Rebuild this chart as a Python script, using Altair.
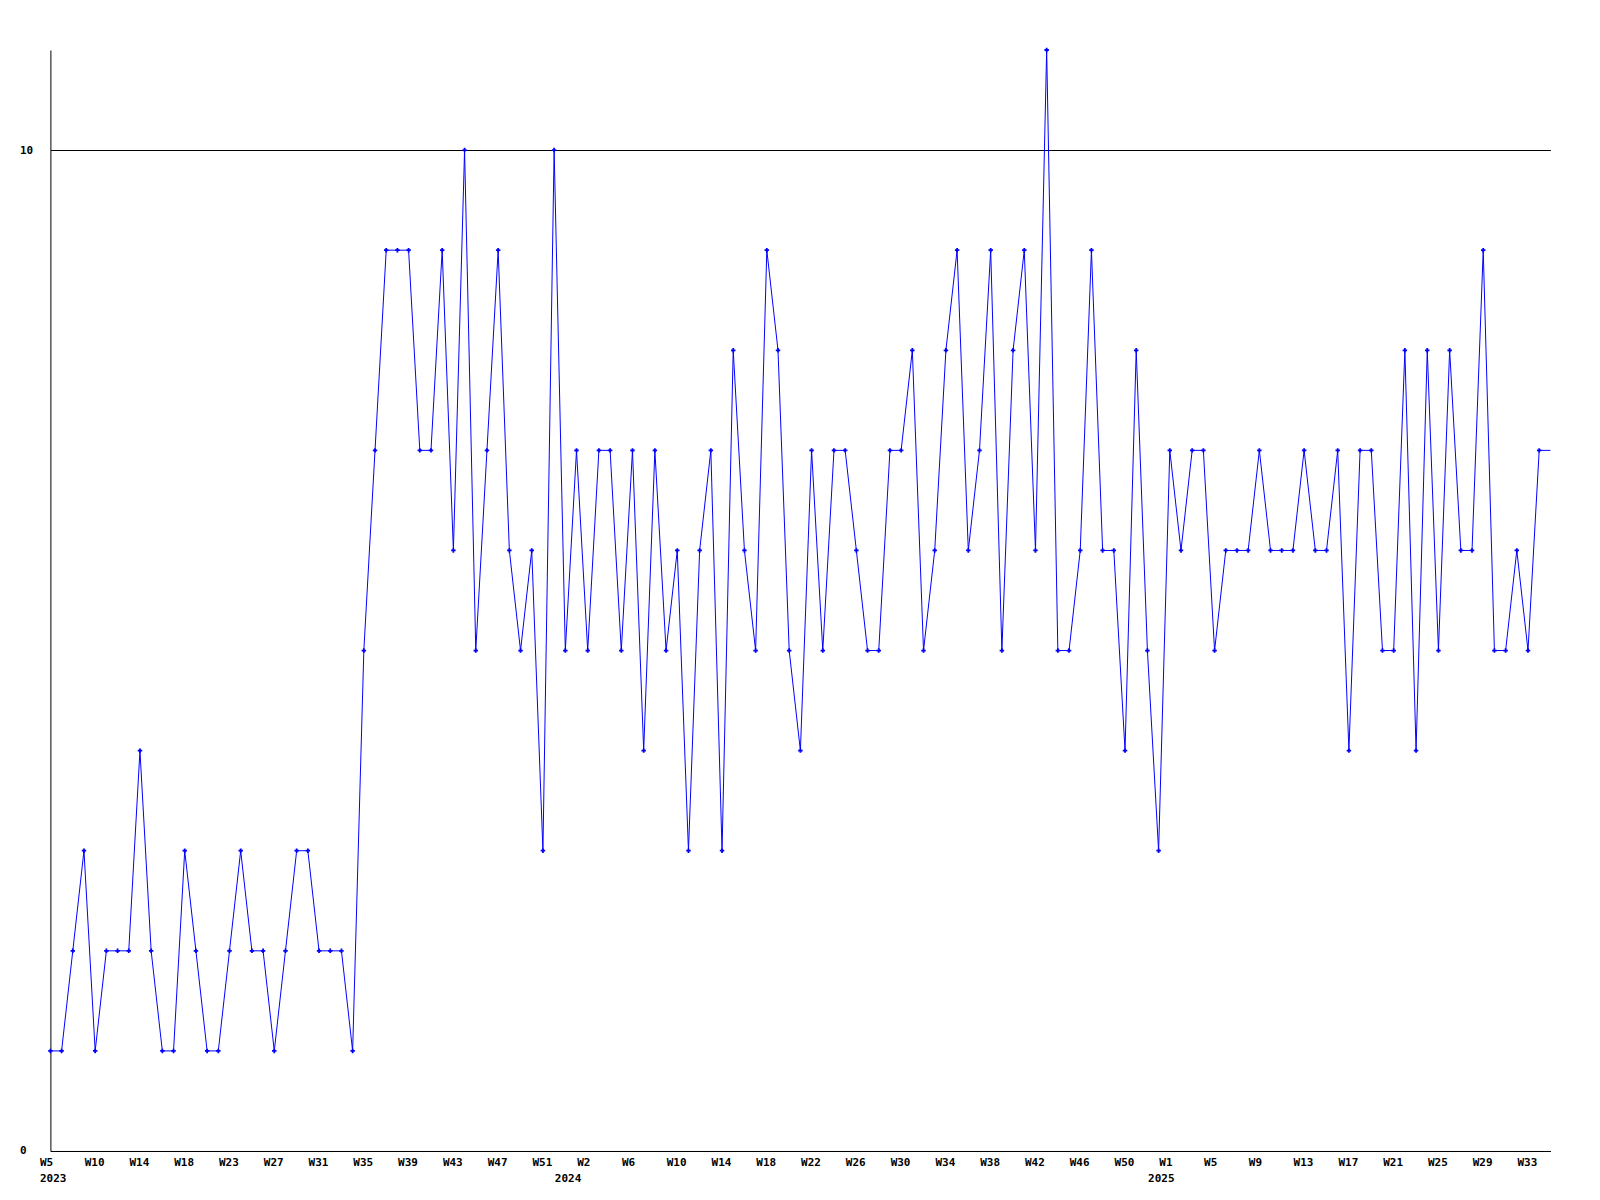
import altair as alt
import pandas as pd

# ---- data ----
weeks_2023 = ["W5", "W6", "W7", "W8", "W10", "W11", "W12", "W13", "W14", "W15", "W16", "W17",
              "W18", "W19", "W20", "W21", "W23", "W24", "W25", "W26", "W27", "W28", "W29", "W30",
              "W31", "W32", "W33", "W34", "W35", "W36", "W37", "W38", "W39", "W40", "W41", "W42",
              "W43", "W44", "W45", "W46", "W47", "W48", "W49", "W50", "W51", "W52"]
weeks_2024 = ["W0"] + [f"W{i}" for i in range(1, 53)]
weeks_2025 = ["W0"] + [f"W{i}" for i in range(1, 35)]
week_labels = weeks_2023 + weeks_2024 + weeks_2025
year_of_point = ["2023"] * len(weeks_2023) + ["2024"] * len(weeks_2024) + ["2025"] * len(weeks_2025)

values = [
    1, 1, 2, 3, 1, 2, 2, 2, 4, 2, 1, 1, 3, 2, 1, 1, 2, 3, 2, 2,
    1, 2, 3, 3, 2, 2, 2, 1, 5, 7, 9, 9, 9, 7, 7, 9, 6, 10, 5, 7,
    9, 6, 5, 6, 3, 10, 5, 7, 5, 7, 7, 5, 7, 4, 7, 5, 6, 3, 6, 7,
    3, 8, 6, 5, 9, 8, 5, 4, 7, 5, 7, 7, 6, 5, 5, 7, 7, 8, 5, 6,
    8, 9, 6, 7, 9, 5, 8, 9, 6, 11, 5, 5, 6, 9, 6, 6, 4, 8, 5, 3,
    7, 6, 7, 7, 5, 6, 6, 6, 7, 6, 6, 6, 7, 6, 6, 7, 4, 7, 7, 5,
    5, 8, 4, 8, 5, 8, 6, 6, 9, 5, 5, 6, 5, 7,
]
# the line carries the last value on to the right edge of the plot
line_tail_value = 7

years = ["2023", "2024", "2025"]

# ---- tables ----
n = len(values)
points = pd.DataFrame({"i": list(range(n)), "v": values, "week": week_labels[:n],
                       "year": year_of_point[:n]})
line_df = pd.concat([points[["i", "v"]],
                     pd.DataFrame({"i": [n], "v": [line_tail_value]})], ignore_index=True)
tick_df = points[points["i"] % 4 == 0]
year_idx = [points.index[points["year"] == y][0] for y in years]
year_df = pd.DataFrame({"i": year_idx, "year": years})

W, H = 1500, 1101
FONT = "DejaVu Sans Mono"
BLUE = "#0000ff"

xs = alt.Scale(domain=[0, n], nice=False, zero=False)
ys = alt.Scale(domain=[0, 11], nice=False)

x_axis = alt.Axis(labels=False, ticks=False, grid=False, title=None,
                  domainColor="black", domainWidth=1)
y_axis = alt.Axis(values=[0, 10], format="d", ticks=False, grid=True, gridColor="black",
                  gridOpacity=1, gridWidth=1, title=None, domainColor="black",
                  labelAlign="left", labelPadding=31, labelFont=FONT,
                  labelFontSize=11, labelFontWeight="bold", labelColor="black",
                  labelBaseline="middle")

base = alt.Chart(line_df)
line = base.mark_line(color=BLUE, strokeWidth=1, clip=False).encode(
    x=alt.X("i:Q", scale=xs, axis=x_axis),
    y=alt.Y("v:Q", scale=ys, axis=y_axis),
)
pts = alt.Chart(points).mark_point(shape="cross", filled=True, size=20,
                                   color=BLUE, opacity=1).encode(
    x=alt.X("i:Q", scale=xs),
    y=alt.Y("v:Q", scale=ys),
)
week_text = alt.Chart(tick_df).mark_text(
    align="left", baseline="middle", dx=-10.5, font=FONT, fontSize=11,
    fontWeight="bold", color="black"
).encode(x=alt.X("i:Q", scale=xs), y=alt.value(H + 12.5), text="week:N")
year_text = alt.Chart(year_df).mark_text(
    align="left", baseline="middle", dx=-10.5, font=FONT, fontSize=11,
    fontWeight="bold", color="black"
).encode(x=alt.X("i:Q", scale=xs), y=alt.value(H + 28), text="year:N")

chart = alt.layer(line, pts, week_text, year_text).properties(
    width=W, height=H,
    background="white",
    autosize=alt.AutoSizeParams(type="none"),
    padding={"left": 42.4, "top": 42, "right": 20, "bottom": 40},
).configure_view(strokeWidth=0, stroke=None)

chart.save("out.html", embed_options={"renderer": "svg", "actions": False})
